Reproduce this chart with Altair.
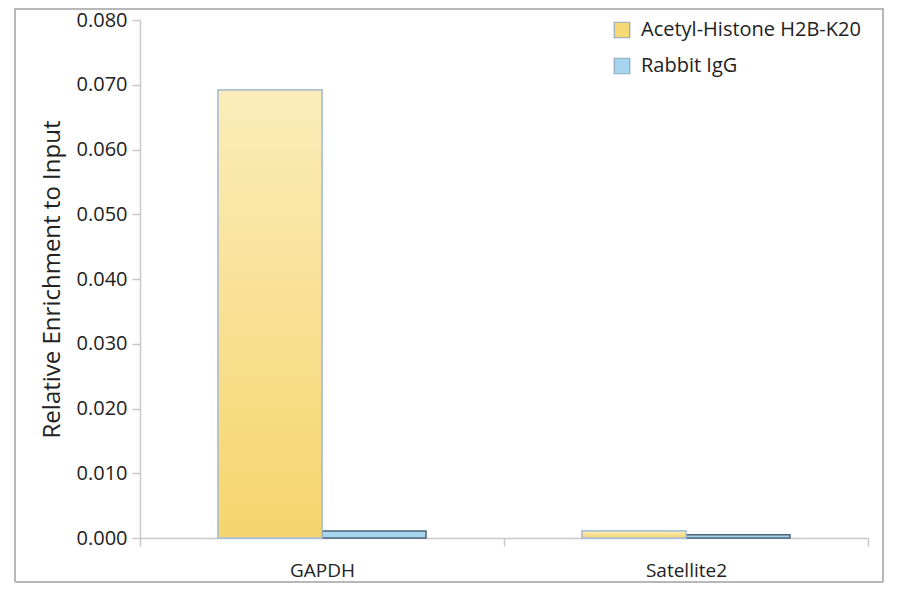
import altair as alt
import pandas as pd

targets = ["GAPDH", "Satellite2"]
series = ["Acetyl-Histone H2B-K20", "Rabbit IgG"]
acetyl_vals = [0.0692, 0.0011]
igg_vals = [0.0011, 0.0005]
y_ticks = [0.0, 0.01, 0.02, 0.03, 0.04, 0.05, 0.06, 0.07, 0.08]

rows = []
for t, a, g in zip(targets, acetyl_vals, igg_vals):
    rows.append({"target": t, "series": series[0], "value": a})
    rows.append({"target": t, "series": series[1], "value": g})
df = pd.DataFrame(rows)

FONT = "Open Sans"
TITLE = "Relative Enrichment to Input"
x_enc = alt.X("target:N", sort=targets, title=None,
              scale=alt.Scale(paddingInner=0.0, paddingOuter=0.0),
              axis=alt.Axis(tickBand="extent", labelAngle=0, tickSize=8,
                            labelPadding=15, labelFontSize=19, labelColor="#222",
                            labelFont=FONT, domainColor="#c8c8c8", tickColor="#c8c8c8",
                            domainWidth=1.5, tickWidth=1.5, grid=False))
y_axis = alt.Axis(values=y_ticks, format=".3f", grid=False, tickSize=8,
                  labelFontSize=20, labelColor="#222", labelFont=FONT,
                  labelPadding=5, titleFontSize=24, titleFont=FONT,
                  titleFontWeight="normal", titleColor="#222", titlePadding=12,
                  domainColor="#c8c8c8", tickColor="#c8c8c8",
                  domainWidth=1.5, tickWidth=1.5)
y_scale = alt.Scale(domain=[0, 0.08], nice=False)
y_enc = alt.Y("value:Q", title=TITLE, scale=y_scale, axis=y_axis)
xoff = alt.XOffset("series:N", sort=series,
                   scale=alt.Scale(domain=series, paddingInner=0.0, paddingOuter=0.75))

base = alt.Chart(df).mark_bar(strokeWidth=1.5).encode(
    x=x_enc, y=y_enc, xOffset=xoff,
    color=alt.Color("series:N", sort=series,
                    scale=alt.Scale(domain=series, range=["#F6D874", "#A6D5EF"]),
                    legend=alt.Legend(title=None, orient="none", legendX=472, legendY=0,
                                      labelFontSize=20, labelFont=FONT, labelColor="#222",
                                      labelLimit=400,
                                      symbolType="square", symbolSize=240,
                                      symbolStrokeWidth=1.2, symbolStrokeColor="#8fa8c0",
                                      rowPadding=14, labelOffset=9, padding=0)),
    stroke=alt.condition(alt.datum.series == series[0], alt.value("#a9c0d8"), alt.value("#4e6678")),
)

grad = alt.Gradient(gradient="linear", x1=0, x2=0, y1=0, y2=1,
                    stops=[alt.GradientStop(color="#FBECBA", offset=0),
                           alt.GradientStop(color="#F5D56C", offset=1)])
yellow = alt.Chart(df).transform_filter(alt.datum.series == series[0]).mark_bar(
    color=grad, stroke="#a9c0d8", strokeWidth=1.5).encode(
    x=x_enc, y=y_enc, xOffset=xoff)

# decorative outer frame (four rules)
one = pd.DataFrame({"k": [0]})
FR = dict(color="#b8b8b8", strokeWidth=2)
f_left = alt.Chart(one).mark_rule(**FR).encode(x=alt.value(-125), y=alt.value(-12), y2=alt.value(562))
f_right = alt.Chart(one).mark_rule(**FR).encode(x=alt.value(743), y=alt.value(-12), y2=alt.value(562))
f_top = alt.Chart(one).mark_rule(**FR).encode(x=alt.value(-125), x2=alt.value(743), y=alt.value(-11))
f_bot = alt.Chart(one).mark_rule(**FR).encode(x=alt.value(-125), x2=alt.value(743), y=alt.value(562))

# white cover over the plot-area outline on top and right edges
WC = dict(color="white", strokeWidth=3)
c_top = alt.Chart(one).mark_rule(**WC).encode(x=alt.value(1), x2=alt.value(730), y=alt.value(0))
c_right = alt.Chart(one).mark_rule(**WC).encode(x=alt.value(728), y=alt.value(-1), y2=alt.value(516))

chart = alt.layer(base, yellow, c_top, c_right, f_left, f_right, f_top, f_bot).properties(
    width=728, height=518,
    padding={"left": 132, "top": 12, "right": 24, "bottom": 48},
    autosize=alt.AutoSizeParams(type="none"),
).configure(background="white").configure_view(strokeWidth=0, stroke="transparent")

chart.save("out.html", embed_options={"renderer": "svg", "actions": False})
